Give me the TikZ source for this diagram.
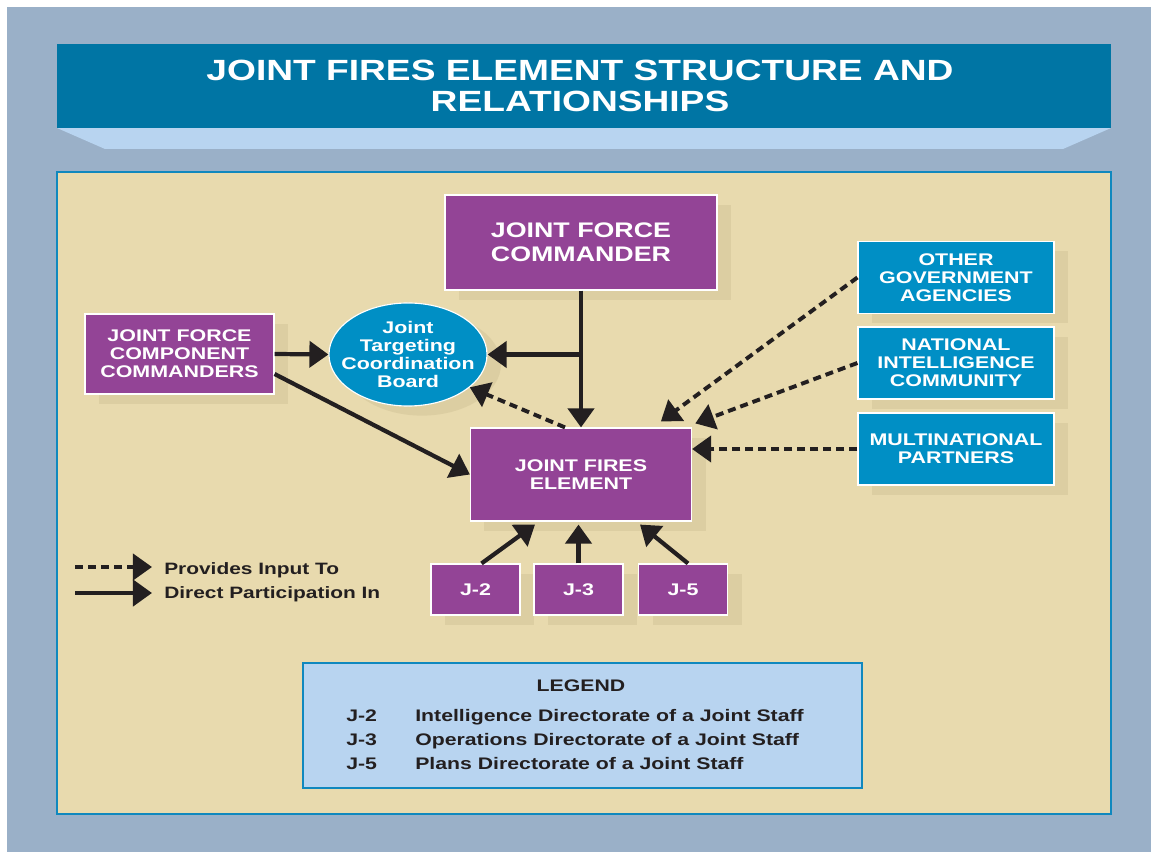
\documentclass[tikz,border=0pt]{standalone}
\usepackage{fontspec}
\newfontfamily\jfefont[FakeStretch=1.27]{Liberation Sans Bold}
\usepackage{tikz}
\usetikzlibrary{arrows.meta}
\usetikzlibrary{shapes.geometric}
\usetikzlibrary{shadows}

\definecolor{frame}{RGB}{154,176,200}
\definecolor{titleblue}{RGB}{0,117,164}
\definecolor{paleblue}{RGB}{184,212,240}
\definecolor{sand}{RGB}{232,218,174}
\definecolor{sandshade}{RGB}{220,206,162}
\definecolor{rim}{RGB}{16,136,190}
\definecolor{jpurple}{RGB}{147,68,150}
\definecolor{jblue}{RGB}{0,143,197}
\definecolor{ink}{RGB}{35,31,32}

\tikzset{
  staffbox/.style={draw=white,line width=0.8pt,inner sep=0pt,align=center,text=white,
    font=\jfefont\fontsize{12}{12.8}\selectfont,
    drop shadow={shadow xshift=0.35cm,shadow yshift=-0.24cm,fill=sandshade,opacity=1}},
  purplebox/.style={staffbox,fill=jpurple},
  bluebox/.style={staffbox,fill=jblue,minimum width=4.9cm,minimum height=1.8cm},
  jbox/.style={purplebox,minimum width=2.225cm,minimum height=1.275cm},
  directarrow/.style={draw=ink,line width=3pt,-{Triangle[length=0.475cm,width=0.65cm]}},
  inputarrow/.style={directarrow,line width=2.8pt,dash pattern=on 0.2cm off 0.125cm},
  keytext/.style={text=ink,inner sep=0pt,font=\jfefont\fontsize{11.7}{13}\selectfont},
  legendtext/.style={text=ink,inner sep=0pt,font=\jfefont\fontsize{11.9}{13}\selectfont}
}

\begin{document}
\begin{tikzpicture}[x=0.025cm,y=-0.025cm]
    \useasboundingbox (0,0) rectangle (1151,852);
    \fill[white] (0,0) rectangle (1151,852);
    \fill[frame] (7,7) rectangle (1151,852);

    \fill[paleblue] (57,128) -- (1111,128) -- (1063,149) -- (105,149) -- cycle;
    \fill[titleblue] (57,44) rectangle (1111,128);
    \node[text=white,align=center,inner sep=0pt,font=\jfefont\fontsize{20.8}{21.8}\selectfont] (title) at (580,86) {JOINT FIRES ELEMENT STRUCTURE AND\\RELATIONSHIPS};

    \draw[fill=sand,draw=rim,line width=1.8pt] (57,172) rectangle (1111,814);

    \node[purplebox,minimum width=6.8cm,minimum height=2.375cm,font=\jfefont\fontsize{15}{17}\selectfont] (jfc) at (581,242.5) {JOINT FORCE\\COMMANDER};
    \node[purplebox,minimum width=4.725cm,minimum height=2cm] (jfcc) at (179.5,354) {JOINT FORCE\\COMPONENT\\COMMANDERS};
    \node[staffbox,ellipse,fill=jblue,inner xsep=-0.3cm,inner ysep=-0.15cm,minimum width=3.95cm,minimum height=2.575cm] (jtcb) at (408,354.5) {Joint\\Targeting\\Coordination\\Board};
    \node[purplebox,minimum width=5.525cm,minimum height=2.325cm] (jfe) at (581,474.5) {JOINT FIRES\\ELEMENT};

    \node[bluebox] (oga) at (956,277.5) {OTHER\\GOVERNMENT\\AGENCIES};
    \node[bluebox] (nic) at (956,363) {NATIONAL\\INTELLIGENCE\\COMMUNITY};
    \node[bluebox] (mnp) at (956,449) {MULTINATIONAL\\PARTNERS};

    \node[jbox] (jtwo) at (475.5,589.5) {J-2};
    \node[jbox] (jthree) at (578.5,589.5) {J-3};
    \node[jbox] (jfive) at (683,589.5) {J-5};

    \draw[directarrow] (jfc.south) -- (jfe.north);
    \draw[directarrow] (jfc.south |- jtcb.east) -- (jtcb.east);
    \draw[directarrow] (jfcc.east) -- (jtcb.west);
    \draw[directarrow] ([yshift=-0.5cm]jfcc.east) -- (jfe.west);
    \draw[inputarrow] ([xshift=-0.4cm]jfe.north) -- (jtcb.-28);
    \draw[inputarrow] (oga.west) -- ([xshift=-0.78cm,yshift=0.15cm]jfe.north east);
    \draw[inputarrow] (nic.west) -- ([xshift=0.08cm,yshift=0.1cm]jfe.north east);
    \draw[inputarrow] (mnp.west) -- (jfe.east |- mnp.west);
    \draw[directarrow] ([xshift=0.15cm]jtwo.north) -- ([xshift=-1.15cm,yshift=-0.075cm]jfe.south);
    \draw[directarrow] (jthree.north) -- ([yshift=-0.075cm]jthree.north |- jfe.south);
    \draw[directarrow] ([xshift=0.125cm]jfive.north) -- ([xshift=1.475cm,yshift=-0.075cm]jfe.south);

    \coordinate (keyinA) at (75,567);
    \coordinate (keyinB) at (152,567);
    \coordinate (keydirA) at (75,593);
    \coordinate (keydirB) at (152,593);
    \draw[inputarrow] (keyinA) -- (keyinB);
    \draw[directarrow] (keydirA) -- (keydirB);
    \node[keytext,anchor=base west] (keyin) at (164,574) {Provides Input To};
    \node[keytext,anchor=base west] (keydir) at (164,598) {Direct Participation In};

    \node[fill=paleblue,draw=rim,line width=1.5pt,minimum width=13.975cm,minimum height=3.125cm] (legend) at (582.5,725.5) {};
    \node[legendtext,anchor=base] (legendhead) at (581,691) {LEGEND};
    \node[legendtext,anchor=base west] (ltwo) at (346,721) {J-2};
    \node[legendtext,anchor=base west] (lthree) at (346,745) {J-3};
    \node[legendtext,anchor=base west] (lfive) at (346,769) {J-5};
    \node[legendtext,anchor=base west] (dtwo) at (415,721) {Intelligence Directorate of a Joint Staff};
    \node[legendtext,anchor=base west] (dthree) at (415,745) {Operations Directorate of a Joint Staff};
    \node[legendtext,anchor=base west] (dfive) at (415,769) {Plans Directorate of a Joint Staff};
\end{tikzpicture}
\end{document}
